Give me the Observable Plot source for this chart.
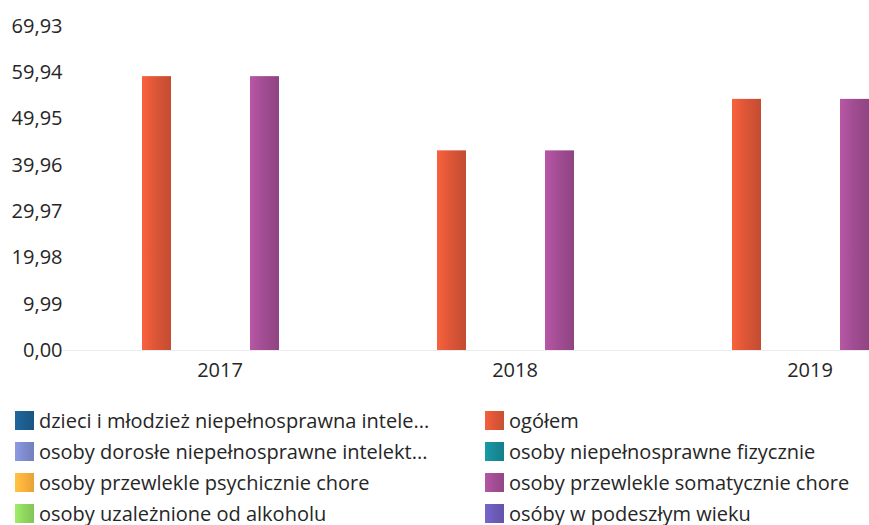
<!DOCTYPE html>
<html><head><meta charset="utf-8">
<script src="https://cdn.jsdelivr.net/npm/d3@7"></script>
<script src="https://cdn.jsdelivr.net/npm/@observablehq/plot@0.6"></script>
<style>
body{margin:0;background:#fff;font-family:"Open Sans",sans-serif;}
#chart{position:relative;width:869px;height:525px;overflow:hidden;background:#fff}
#chart svg{display:block}
.item{position:absolute;display:flex;align-items:center;height:26px;font-size:20px;color:#262626;white-space:nowrap;font-family:"Open Sans",sans-serif}
.sw{width:19px;height:19px;margin-right:5px;flex:none}
</style></head><body><div id="chart"></div><script>
// ---- data ----
const years = ["2017", "2018", "2019"];
const seriesLabels = [
  "dzieci i młodzież niepełnosprawna intele...",
  "osoby dorosłe niepełnosprawne intelekt...",
  "osoby przewlekle psychicznie chore",
  "osoby uzależnione od alkoholu",
  "ogółem",
  "osoby niepełnosprawne fizycznie",
  "osoby przewlekle somatycznie chore",
  "osóby w podeszłym wieku"
];
const valDzieci      = [0, 0, 0];
const valDorosle     = [0, 0, 0];
const valPsychicznie = [0, 0, 0];
const valAlkohol     = [0, 0, 0];
const valOgolem      = [59.11, 43.09, 54.2];
const valFizycznie   = [0, 0, 0];
const valSomatycznie = [59.11, 43.09, 54.2];
const valPodeszly    = [0, 0, 0];
const yTicks = [0, 9.99, 19.98, 29.97, 39.96, 49.95, 59.94, 69.93];

// ---- styles ----
const seriesColors = ["#1c5d8f", "#7f8bcf", "#fbb03b", "#8fd65e", "#dd5637", "#168b96", "#a24d93", "#6c5bb9"];
// order of the bar slots inside each year group
const barOrder = [seriesLabels[0], seriesLabels[1], seriesLabels[4], seriesLabels[2],
                  seriesLabels[5], seriesLabels[6], seriesLabels[3], seriesLabels[7]];

const seriesValues = [valDzieci, valDorosle, valPsychicznie, valAlkohol, valOgolem, valFizycznie, valSomatycznie, valPodeszly];
const rows = [];
seriesLabels.forEach((s, si) => years.forEach((y, yi) => rows.push({series: s, si, year: y, value: seriesValues[si][yi]})));

const locale = d3.formatLocale({decimal: ",", thousands: " ", grouping: [3], currency: ["", ""]});
const fmt = locale.format(".2f");

const gradientDefs = () => {
  const ns = "http://www.w3.org/2000/svg";
  const defs = document.createElementNS(ns, "defs");
  seriesColors.forEach((c, i) => {
    const g = document.createElementNS(ns, "linearGradient");
    g.setAttribute("id", "barg" + i);
    g.setAttribute("x1", "0"); g.setAttribute("x2", "1"); g.setAttribute("y1", "0"); g.setAttribute("y2", "0");
    [[0, d3.color(c).brighter(0.35)], [0.45, d3.color(c)], [1, d3.color(c).darker(0.35)]].forEach(([o, col]) => {
      const st = document.createElementNS(ns, "stop");
      st.setAttribute("offset", o);
      st.setAttribute("stop-color", col.formatHex());
      g.appendChild(st);
    });
    defs.appendChild(g);
  });
  return defs;
};

const plot = Plot.plot({
  width: 869,
  height: 395,
  marginLeft: 63,
  marginRight: -79,
  marginTop: 26,
  marginBottom: 45,
  style: {fontFamily: "Open Sans, sans-serif", fontSize: "20px", color: "#262626", background: "transparent"},
  fx: {domain: years, padding: 0, label: null},
  x: {domain: barOrder, paddingInner: 0.2, paddingOuter: 0.1, axis: null},
  y: {domain: [0, 69.93], label: null},
  color: {type: "identity"},
  marks: [
    gradientDefs,
    Plot.ruleY([0], {stroke: "#e9edf0", strokeWidth: 1}),
    Plot.barY(rows, {fx: "year", x: "series", y: "value", fill: d => `url(#barg${d.si})`}),
    Plot.axisY({ticks: yTicks, tickFormat: fmt, tickSize: 0, tickPadding: 1, label: null}),
    Plot.axisFx({anchor: "bottom", tickSize: 0, tickPadding: 12, dx: 9, label: null})
  ]
});
const chart = document.getElementById("chart");
chart.appendChild(plot);

// ---- legend ----
const rowCenters = [420, 451, 482, 513];
const colLeft = [15, 485];
seriesLabels.forEach((s, i) => {
  const col = Math.floor(i / 4), r = i % 4;
  const it = document.createElement("div");
  it.className = "item";
  it.style.left = colLeft[col] + "px";
  it.style.top = (rowCenters[r] - 13) + "px";
  const sw = document.createElement("div");
  sw.className = "sw";
  sw.style.background = `linear-gradient(90deg, ${d3.color(seriesColors[i]).brighter(0.3).formatHex()}, ${seriesColors[i]} 50%, ${d3.color(seriesColors[i]).darker(0.25).formatHex()})`;
  const tx = document.createElement("span");
  tx.textContent = s;
  it.appendChild(sw); it.appendChild(tx);
  chart.appendChild(it);
});
</script></body></html>
